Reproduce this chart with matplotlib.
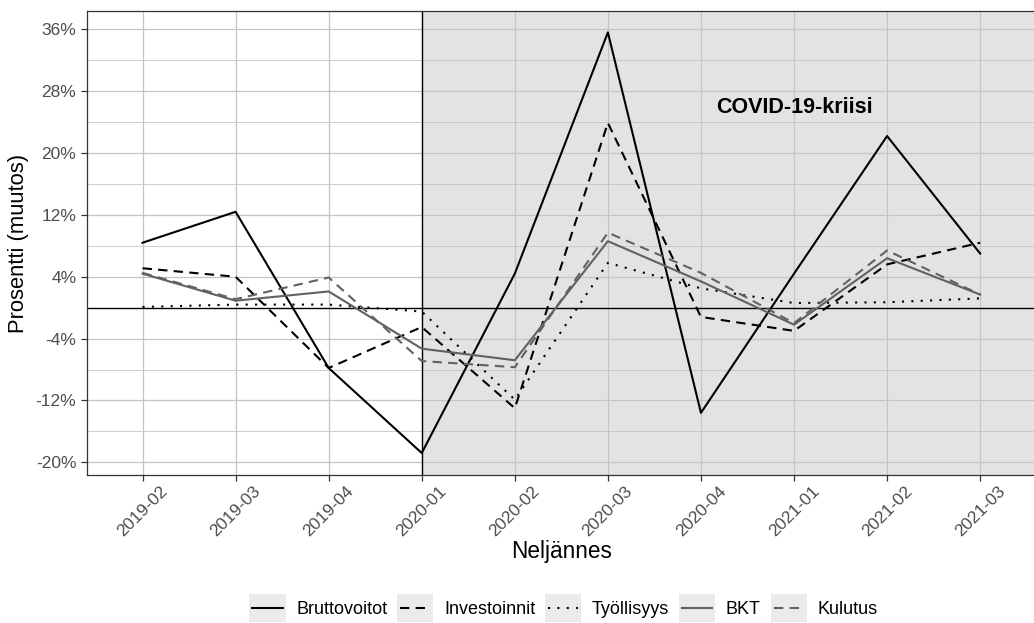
import numpy as np
import matplotlib
matplotlib.use("Agg")
import matplotlib.pyplot as plt
from matplotlib.patches import Rectangle
from matplotlib.legend_handler import HandlerLine2D

plt.rcParams['font.family'] = ['Liberation Sans', 'DejaVu Sans']

quarters = ["2019-02", "2019-03", "2019-04", "2020-01", "2020-02",
            "2020-03", "2020-04", "2021-01", "2021-02", "2021-03"]

bruttovoitot = [8.4, 12.4, -7.8, -18.8, 4.4, 35.6, -13.6, 4.4, 22.2, 7.0]
investoinnit = [5.1, 4.0, -7.8, -2.5, -13.0, 23.9, -1.2, -3.0, 5.6, 8.4]
tyollisyys = [0.1, 0.4, 0.4, -0.5, -11.9, 5.8, 2.5, 0.6, 0.7, 1.2]
bkt = [4.4, 0.9, 2.1, -5.3, -6.8, 8.6, 3.4, -2.2, 6.4, 1.7]
kulutus = [4.5, 1.1, 3.9, -6.9, -7.7, 9.7, 4.5, -2.0, 7.4, 1.7]

yticks = [-20, -12, -4, 4, 12, 20, 28, 36]

W, H = 1034, 623
fig = plt.figure(figsize=(W / 100, H / 100), dpi=100)
ax = fig.add_axes([86.7 / W, (H - 475) / H, (1036 - 86.7) / W, (475 - 11) / H])

x = np.arange(len(quarters))

# shaded crisis period
ax.axvspan(3, 9.6, color='#e3e3e3', zorder=0.1, lw=0)

series = [
    ("Bruttovoitot", bruttovoitot, 'black', '-'),
    ("Investoinnit", investoinnit, 'black', (0, (4.5, 3))),
    ("Työllisyys", tyollisyys, 'black', (0, (1, 3.5))),
    ("BKT", bkt, '#616161', '-'),
    ("Kulutus", kulutus, '#616161', (0, (4.5, 3))),
]
handles = []
for name, vals, col, ls in series:
    h, = ax.plot(x, vals, color=col, linestyle=ls, lw=1.5, label=name, zorder=3)
    handles.append(h)

ax.axhline(0, color='black', lw=1.0, zorder=2)
ax.axvline(3, color='black', lw=1.0, zorder=2)

ax.text(7, 25.9, "COVID-19-kriisi", ha='center', va='center',
        fontsize=15.5, fontweight='bold', zorder=4)

ax.set_xlim(-0.6, 9.6)
ax.set_ylim(-21.64, 38.37)
ax.set_xticks(x)
ax.set_xticklabels(quarters, rotation=45, ha='center', va='top')
ax.set_yticks(yticks)
ax.set_yticklabels([f"{v}%" for v in yticks])
ax.set_yticks([v + 4 for v in yticks[:-1]], minor=True)

ax.set_axisbelow(True)
ax.grid(True, which='major', color='#c4c4c4', lw=0.9)
ax.grid(True, which='minor', axis='y', color='#c4c4c4', lw=0.6)
ax.tick_params(axis='both', which='major', labelsize=12.5, colors='#333333',
               labelcolor='#4d4d4d', length=4, width=0.9, direction='out')
ax.tick_params(axis='x', pad=2)
ax.tick_params(which='minor', length=0)
for s in ax.spines.values():
    s.set_color('#333333')
    s.set_linewidth(0.9)

ax.set_xlabel("Neljännes", fontsize=16.3, labelpad=1)
ax.set_ylabel("Prosentti (muutos)", fontsize=15.8, labelpad=5)


class KeyBg(HandlerLine2D):
    def create_artists(self, legend, orig_handle, xdescent, ydescent,
                       width, height, fontsize, trans):
        bg = Rectangle((-xdescent - 2.2, -ydescent - 5.5), width + 4.4, height + 11,
                       facecolor='#ebebeb', edgecolor='none', transform=trans)
        arts = super().create_artists(legend, orig_handle, xdescent, ydescent,
                                      width, height, fontsize, trans)
        return [bg] + arts


leg = fig.legend(handles=handles, loc='center', bbox_to_anchor=(565 / W, 1 - 610 / H),
                 ncol=5, frameon=False, fontsize=13, handlelength=1.67,
                 handletextpad=0.75, columnspacing=0.72,
                 handler_map={h: KeyBg() for h in handles})

fig.savefig("out.png", dpi=100)
